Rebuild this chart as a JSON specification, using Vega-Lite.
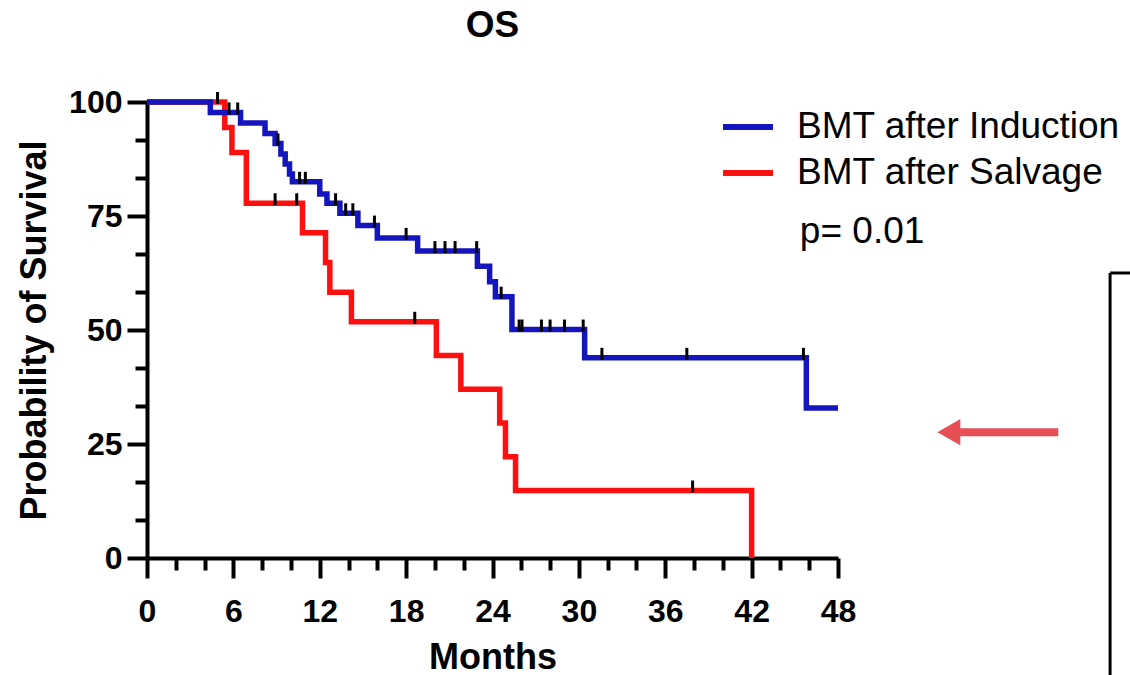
{
  "$schema": "https://vega.github.io/schema/vega-lite/v6.json",
  "width": 691,
  "height": 456,
  "autosize": {"type": "none"},
  "padding": {"left": 147, "top": 102, "right": 292, "bottom": 117},
  "background": "white",
  "title": {"text": "OS", "fontSize": 37, "font": "Liberation Sans", "fontWeight": "bold", "color": "black", "anchor": "middle", "frame": "group", "offset": 41},
  "config": {"view": {"stroke": null}, "font": "Liberation Sans", "axis": {"labelOverlap": false, "labelSeparation": 0, "labelBound": false}},
  "datasets": {
    "curves": [
      {"group": "BMT after Induction", "t": 0, "s": 100},
      {"group": "BMT after Induction", "t": 4.4, "s": 97.7},
      {"group": "BMT after Induction", "t": 6.5, "s": 95.4},
      {"group": "BMT after Induction", "t": 8.2, "s": 93.1},
      {"group": "BMT after Induction", "t": 8.9, "s": 90.9},
      {"group": "BMT after Induction", "t": 9.3, "s": 88.6},
      {"group": "BMT after Induction", "t": 9.6, "s": 86.4},
      {"group": "BMT after Induction", "t": 9.9, "s": 84.2},
      {"group": "BMT after Induction", "t": 10.1, "s": 82.5},
      {"group": "BMT after Induction", "t": 12.0, "s": 79.8},
      {"group": "BMT after Induction", "t": 12.5, "s": 77.8},
      {"group": "BMT after Induction", "t": 13.4, "s": 75.6},
      {"group": "BMT after Induction", "t": 14.65, "s": 72.9},
      {"group": "BMT after Induction", "t": 16.0, "s": 70.2},
      {"group": "BMT after Induction", "t": 18.8, "s": 67.3},
      {"group": "BMT after Induction", "t": 22.95, "s": 64.0},
      {"group": "BMT after Induction", "t": 23.8, "s": 60.6},
      {"group": "BMT after Induction", "t": 24.2, "s": 57.3},
      {"group": "BMT after Induction", "t": 25.35, "s": 50.1},
      {"group": "BMT after Induction", "t": 30.4, "s": 43.9},
      {"group": "BMT after Induction", "t": 45.8, "s": 32.9},
      {"group": "BMT after Induction", "t": 48, "s": 32.9},
      {"group": "BMT after Salvage", "t": 0, "s": 100},
      {"group": "BMT after Salvage", "t": 5.4, "s": 94.4},
      {"group": "BMT after Salvage", "t": 5.9, "s": 88.9},
      {"group": "BMT after Salvage", "t": 6.9, "s": 77.8},
      {"group": "BMT after Salvage", "t": 10.8, "s": 71.3},
      {"group": "BMT after Salvage", "t": 12.4, "s": 64.8},
      {"group": "BMT after Salvage", "t": 12.7, "s": 58.3},
      {"group": "BMT after Salvage", "t": 14.2, "s": 51.8},
      {"group": "BMT after Salvage", "t": 20.1, "s": 44.4},
      {"group": "BMT after Salvage", "t": 21.8, "s": 37.0},
      {"group": "BMT after Salvage", "t": 24.5, "s": 29.6},
      {"group": "BMT after Salvage", "t": 24.9, "s": 22.2},
      {"group": "BMT after Salvage", "t": 25.6, "s": 14.8},
      {"group": "BMT after Salvage", "t": 42.0, "s": 0}
    ],
    "censored": [
      {"group": "BMT after Induction", "t": 5.7, "s": 97.7},
      {"group": "BMT after Induction", "t": 6.3, "s": 97.7},
      {"group": "BMT after Induction", "t": 9.1, "s": 90.9},
      {"group": "BMT after Induction", "t": 10.6, "s": 82.5},
      {"group": "BMT after Induction", "t": 11.0, "s": 82.5},
      {"group": "BMT after Induction", "t": 13.1, "s": 77.8},
      {"group": "BMT after Induction", "t": 13.8, "s": 75.6},
      {"group": "BMT after Induction", "t": 14.3, "s": 75.6},
      {"group": "BMT after Induction", "t": 15.8, "s": 72.9},
      {"group": "BMT after Induction", "t": 18.0, "s": 70.2},
      {"group": "BMT after Induction", "t": 20.0, "s": 67.3},
      {"group": "BMT after Induction", "t": 20.7, "s": 67.3},
      {"group": "BMT after Induction", "t": 21.4, "s": 67.3},
      {"group": "BMT after Induction", "t": 22.9, "s": 67.3},
      {"group": "BMT after Induction", "t": 24.6, "s": 57.3},
      {"group": "BMT after Induction", "t": 25.85, "s": 50.1},
      {"group": "BMT after Induction", "t": 26.05, "s": 50.1},
      {"group": "BMT after Induction", "t": 27.4, "s": 50.1},
      {"group": "BMT after Induction", "t": 28.0, "s": 50.1},
      {"group": "BMT after Induction", "t": 29.0, "s": 50.1},
      {"group": "BMT after Induction", "t": 30.3, "s": 50.1},
      {"group": "BMT after Induction", "t": 31.6, "s": 43.9},
      {"group": "BMT after Induction", "t": 37.5, "s": 43.9},
      {"group": "BMT after Induction", "t": 45.6, "s": 43.9},
      {"group": "BMT after Salvage", "t": 4.9, "s": 100},
      {"group": "BMT after Salvage", "t": 8.9, "s": 77.8},
      {"group": "BMT after Salvage", "t": 10.4, "s": 77.8},
      {"group": "BMT after Salvage", "t": 18.6, "s": 51.8},
      {"group": "BMT after Salvage", "t": 37.9, "s": 14.8}
    ],
    "note": [{"label": "p= 0.01", "t": 45.35, "s": 69.1}],
    "arrowShaft": [{"t": 56.4, "t2": 63.3, "s": 27.6}],
    "arrowHead": [{"t": 55.7, "s": 27.6}],
    "box": [
      {"t": 66.9, "t2": 66.9, "s": 62.5, "s2": -30},
      {"t": 66.9, "t2": 70, "s": 62.5, "s2": 62.5}
    ]
  },
  "layer": [
    {
      "data": {"name": "curves"},
      "transform": [{"filter": "datum.group === 'BMT after Salvage'"}],
      "mark": {"type": "line", "interpolate": "step-after", "strokeWidth": 5.5, "strokeJoin": "miter"},
      "encoding": {
        "x": {
          "field": "t", "type": "quantitative",
          "scale": {"domain": [0, 48], "nice": false, "zero": false},
          "axis": {
            "title": "Months",
            "titleFont": "Liberation Sans", "titleFontSize": 36, "titleFontWeight": "bold", "titleColor": "black",
            "titleBaseline": "alphabetic", "titleY": 110,
            "values": [0, 2, 4, 6, 8, 10, 12, 14, 16, 18, 20, 22, 24, 26, 28, 30, 32, 34, 36, 38, 40, 42, 44, 46, 48],
            "tickCount": 100,
            "labelExpr": "datum.value % 6 === 0 ? format(datum.value, 'd') : ''",
            "labelFont": "Liberation Sans", "labelFontSize": 32, "labelFontWeight": "bold", "labelColor": "black",
            "labelPadding": 18, "labelFlush": false, "labelOverlap": false, "labelSeparation": 0,
            "tickSize": 20,
            "tickDash": {"condition": {"test": "datum.value % 6 === 0", "value": [30, 0]}, "value": [12, 30]},
            "tickWidth": 4, "tickColor": "black",
            "domainColor": "black", "domainWidth": 4,
            "grid": false
          }
        },
        "y": {
          "field": "s", "type": "quantitative",
          "scale": {"domain": [0, 100], "nice": false},
          "axis": {
            "title": "Probability of Survival",
            "titleFont": "Liberation Sans", "titleFontSize": 36, "titleFontWeight": "bold", "titleColor": "black",
            "titleAngle": -90, "titleAlign": "center", "titleBaseline": "alphabetic", "titleX": -102, "titleY": 228,
            "values": [0, 8.3333, 16.6667, 25, 33.3333, 41.6667, 50, 58.3333, 66.6667, 75, 83.3333, 91.6667, 100],
            "tickCount": 100,
            "labelExpr": "datum.value % 25 === 0 ? format(datum.value, 'd') : ''",
            "labelFont": "Liberation Sans", "labelFontSize": 32, "labelFontWeight": "bold", "labelColor": "black",
            "labelPadding": 5, "labelFlush": false, "labelOverlap": false, "labelSeparation": 0,
            "tickSize": 20,
            "tickDash": {"condition": {"test": "datum.value % 25 === 0", "value": [30, 0]}, "value": [12, 30]},
            "tickWidth": 4, "tickColor": "black",
            "domainColor": "black", "domainWidth": 4,
            "grid": false
          }
        },
        "color": {
          "field": "group", "type": "nominal",
          "scale": {"domain": ["BMT after Induction", "BMT after Salvage"], "range": ["#1515BE", "#FF1010"]},
          "legend": {
            "orient": "none", "legendX": 573, "legendY": -3, "title": null,
            "symbolType": "stroke", "symbolSize": 2500, "symbolStrokeWidth": 6,
            "labelFont": "Liberation Sans", "labelFontSize": 37, "labelColor": "black",
            "labelOffset": 21, "rowPadding": -2, "labelLimit": 0
          }
        }
      }
    },
    {
      "data": {"name": "curves"},
      "transform": [{"filter": "datum.group === 'BMT after Induction'"}],
      "mark": {"type": "line", "interpolate": "step-after", "strokeWidth": 5.5, "strokeJoin": "miter"},
      "encoding": {
        "x": {"field": "t", "type": "quantitative"},
        "y": {"field": "s", "type": "quantitative"},
        "color": {"field": "group", "type": "nominal"}
      }
    },
    {
      "data": {"name": "censored"},
      "mark": {"type": "tick", "orient": "vertical", "size": 12, "thickness": 3, "yOffset": -4, "color": "black", "opacity": 1},
      "encoding": {
        "x": {"field": "t", "type": "quantitative"},
        "y": {"field": "s", "type": "quantitative"}
      }
    },
    {
      "data": {"name": "note"},
      "mark": {"type": "text", "align": "left", "baseline": "alphabetic", "font": "Liberation Sans", "fontSize": 37, "color": "black"},
      "encoding": {
        "x": {"field": "t", "type": "quantitative"},
        "y": {"field": "s", "type": "quantitative"},
        "text": {"field": "label"}
      }
    },
    {
      "data": {"name": "arrowShaft"},
      "mark": {"type": "rule", "strokeWidth": 8, "color": "#E84F55"},
      "encoding": {
        "x": {"field": "t", "type": "quantitative"},
        "x2": {"field": "t2"},
        "y": {"field": "s", "type": "quantitative"}
      }
    },
    {
      "data": {"name": "arrowHead"},
      "mark": {"type": "point", "shape": "triangle-left", "size": 700, "filled": true, "opacity": 1, "color": "#E84F55"},
      "encoding": {
        "x": {"field": "t", "type": "quantitative"},
        "y": {"field": "s", "type": "quantitative"}
      }
    },
    {
      "data": {"name": "box"},
      "mark": {"type": "rule", "strokeWidth": 3, "color": "black"},
      "encoding": {
        "x": {"field": "t", "type": "quantitative"},
        "x2": {"field": "t2"},
        "y": {"field": "s", "type": "quantitative"},
        "y2": {"field": "s2"}
      }
    }
  ]
}
